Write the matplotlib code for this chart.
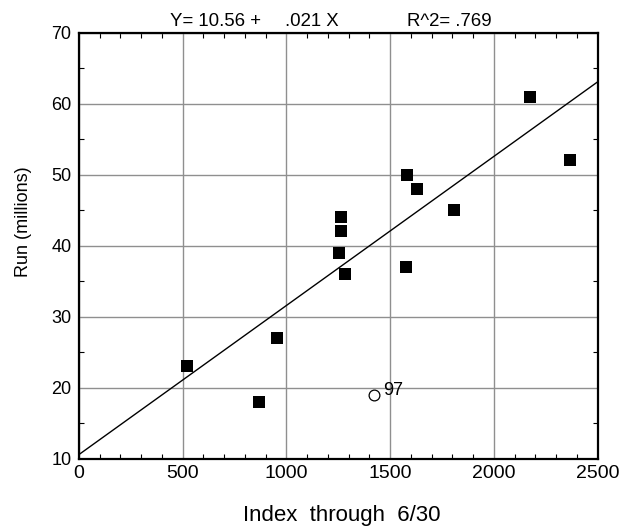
import matplotlib
matplotlib.use("Agg")
import matplotlib.pyplot as plt
from matplotlib.ticker import MultipleLocator

plt.rcParams["font.family"] = ["Liberation Sans", "DejaVu Sans"]

# index through 6/30 vs season run (millions)
index_vals = [520, 870, 955, 1256, 1262, 1262, 1283, 1578, 1582, 1630, 1807, 2175, 2368]
run_vals = [23, 18, 27, 39, 42, 44, 36, 37, 50, 48, 45, 61, 52]

# current season, plotted open and labelled
current_index = [1423]
current_run = [19]
current_label = "97"

intercept = 10.56
slope = 0.021
r_squared = 0.769

W, H = 623, 527
fig = plt.figure(figsize=(W / 100, H / 100), dpi=100)
ax = fig.add_axes([79 / W, 1 - 458.5 / H, 518.5 / W, 425.8 / H])

ax.set_xlim(0, 2500)
ax.set_ylim(10, 70)
ax.xaxis.set_major_locator(MultipleLocator(500))
ax.xaxis.set_minor_locator(MultipleLocator(100))
ax.yaxis.set_major_locator(MultipleLocator(10))
ax.yaxis.set_minor_locator(MultipleLocator(5))
ax.grid(True, which="major", color="#8f8f8f", linewidth=1.0)
ax.set_axisbelow(True)
ax.tick_params(which="both", direction="in", top=True, right=True)
ax.tick_params(which="major", length=0)
ax.tick_params(which="minor", length=3.5, width=0.8)
ax.tick_params(axis="x", labelsize=14, pad=5)
ax.tick_params(axis="y", labelsize=13, pad=5.5)
for spine in ax.spines.values():
    spine.set_linewidth(1.6)

ax.scatter(index_vals, run_vals, marker="s", s=75, color="black",
           linewidths=0, zorder=3)
ax.scatter(current_index, current_run, marker="o", s=60, facecolor="white",
           edgecolor="black", linewidths=0.9, zorder=3)
for x, y in zip(current_index, current_run):
    ax.annotate(current_label, (x, y), xytext=(6.5, 0), textcoords="offset points",
                fontsize=13, va="baseline", ha="left")

line_x = [0, 2500]
line_y = [intercept + slope * x for x in line_x]
ax.plot(line_x, line_y, color="black", linewidth=1.0, zorder=2)

ax.set_xlabel("Index  through  6/30", fontsize=16, va="baseline")
ax.xaxis.set_label_coords(0.507, -0.147)
ax.set_ylabel("Run (millions)", fontsize=13)
ax.yaxis.set_label_coords(-0.091, 0.556)

# fit equation and R^2 above the frame
base_y = 1 - 25.7 / H
fig.text(170 / W, base_y, f"Y= {intercept:.2f} +", fontsize=13.4, va="baseline")
fig.text(285 / W, base_y, f"{slope:.3f}".lstrip("0") + " X", fontsize=13.4,
         va="baseline")
fig.text(406.7 / W, base_y, "R^2= " + f"{r_squared:.3f}".lstrip("0"),
         fontsize=13.4, va="baseline")

fig.savefig("out.png", dpi=100)
